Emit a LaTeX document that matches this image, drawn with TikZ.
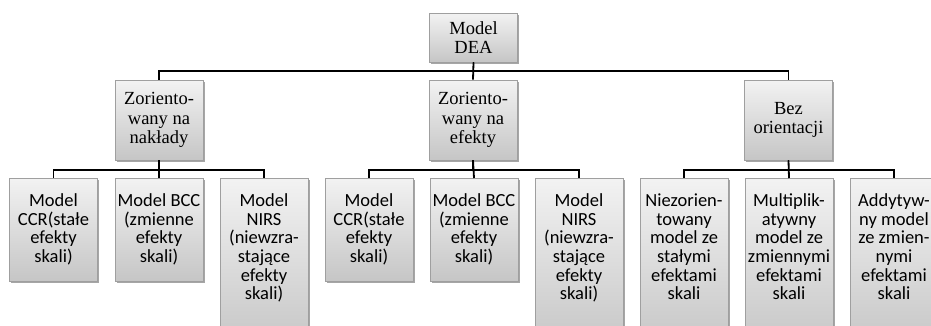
\documentclass[tikz,border=0pt]{standalone}
\usepackage{fontspec}
\setmainfont{Liberation Serif}
\newfontfamily\calib{Carlito}
\usetikzlibrary{shadows}
\newcommand\tbox[2]{\parbox[c][#1][c]{88pt}{\fontsize{18.5}{19.3}\selectfont\centering #2}}
\newcommand\cbox[2]{\parbox[c][#1][t]{88pt}{\calib\fontsize{18.5}{18.7}\selectfont\centering\rule{0pt}{28pt}#2}}
\begin{document}
\begin{tikzpicture}[x=1pt,y=1pt,
  box/.style={draw=gray!75, line width=0.7pt, top color=gray!10, bottom color=gray!45,
    inner sep=0pt, drop shadow={shadow xshift=1.5pt,shadow yshift=-2pt,opacity=0.35,fill=black}},
  conn/.style={line width=1.8pt, draw=black}]
\useasboundingbox (0,0) rectangle (931,-325);
\clip (0,0) rectangle (931,-325);
% top
\node[box] (dea) at (473.5,-37.5) {\tbox{49pt}{Model\\DEA}};
% level 2
\node[box] (a) at (159,-120) {\tbox{80pt}{Zoriento-\\wany na\\nakłady}};
\node[box] (b) at (473,-120) {\tbox{80pt}{Zoriento-\\wany na\\efekty}};
\node[box] (c) at (788.5,-120) {\tbox{80pt}{Bez\\orientacji}};
% level 3
\node[box,anchor=north] (a1) at (53.5,-178) {\cbox{103pt}{Model\\CCR(stałe\\efekty\\skali)}};
\node[box,anchor=north] (a2) at (159,-178) {\cbox{103pt}{Model BCC\\(zmienne\\efekty\\skali)}};
\node[box,anchor=north] (a3) at (264,-178) {\cbox{170pt}{Model\\NIRS\\(niewzra-\\stające\\efekty\\skali)}};
\node[box,anchor=north] (b1) at (369,-178) {\cbox{103pt}{Model\\CCR(stałe\\efekty\\skali)}};
\node[box,anchor=north] (b2) at (474,-178) {\cbox{103pt}{Model BCC\\(zmienne\\efekty\\skali)}};
\node[box,anchor=north] (b3) at (579,-178) {\cbox{170pt}{Model\\NIRS\\(niewzra-\\stające\\efekty\\skali)}};
\node[box,anchor=north] (c1) at (684,-178) {\cbox{170pt}{Niezorien-\\towany\\model ze\\stałymi\\efektami\\skali}};
\node[box,anchor=north] (c2) at (789,-178) {\cbox{170pt}{Multiplik-\\atywny\\model ze\\zmiennymi\\efektami\\skali}};
\node[box,anchor=north] (c3) at (894,-178) {\cbox{170pt}{Addytyw-\\ny model\\ze zmien-\\nymi\\efektami\\skali}};
% connectors
\draw[conn] (dea.south) -- ++(0,-9) -| (a.north);
\draw[conn] (dea.south) -- (b.north);
\draw[conn] (dea.south) -- ++(0,-9) -| (c.north);
\foreach \p in {a,b,c}{
  \draw[conn] (\p.south) -- ++(0,-10) -| (\p1.north);
  \draw[conn] (\p.south) -- (\p2.north);
  \draw[conn] (\p.south) -- ++(0,-10) -| (\p3.north);
}
\end{tikzpicture}
\end{document}
